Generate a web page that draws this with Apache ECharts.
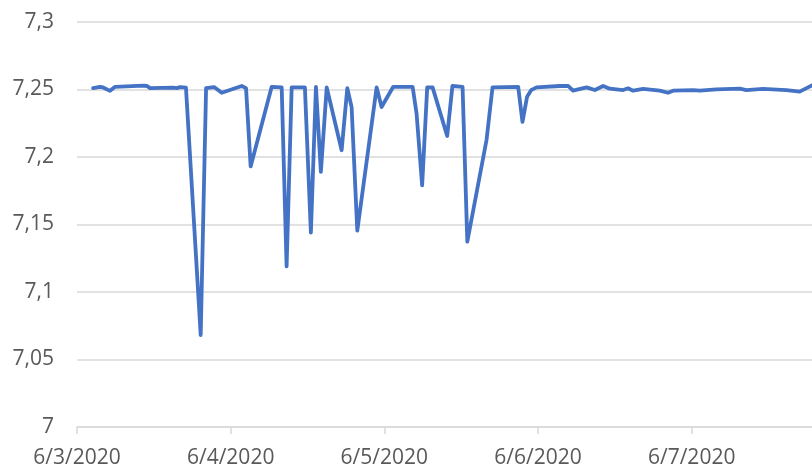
<!DOCTYPE html>
<html>
<head>
<meta charset="utf-8">
<script src="https://cdn.jsdelivr.net/npm/echarts@6/dist/echarts.min.js"></script>
<style>
html,body{margin:0;padding:0;background:#fff;}
#chart{width:812px;height:470px;}
</style>
</head>
<body>
<div id="chart"></div>
<script>
// Tick labels for the date axis (day offsets 0..4 from 6/3/2020)
const dateLabels = ['6/3/2020', '6/4/2020', '6/5/2020', '6/6/2020', '6/7/2020'];

// Measurement time, in days after 6/3/2020 00:00
const days = [
  0.105, 0.150, 0.170, 0.215, 0.248, 0.430, 0.456, 0.475, 0.625, 0.651, 0.670, 0.709,
  0.805, 0.840, 0.892, 0.942, 1.072, 1.100, 1.130, 1.267, 1.332, 1.364, 1.397, 1.483,
  1.522, 1.555, 1.587, 1.625, 1.722, 1.759, 1.787, 1.824, 1.950, 1.982, 2.058, 2.184,
  2.210, 2.246, 2.279, 2.314, 2.409, 2.443, 2.509, 2.540, 2.665, 2.704, 2.871, 2.899,
  2.929, 2.955, 2.990, 3.142, 3.196, 3.228, 3.316, 3.370, 3.424, 3.467, 3.554, 3.586,
  3.619, 3.684, 3.792, 3.846, 3.879, 4.009, 4.053, 4.161, 4.313, 4.356, 4.464, 4.616,
  4.703, 4.757, 4.800
];

// Measured values
const values = [
  7.2510, 7.2520, 7.2515, 7.2490, 7.2520, 7.2528, 7.2526, 7.2510, 7.2514, 7.2510, 7.2518, 7.2514,
  7.0680, 7.2510, 7.2518, 7.2476, 7.2526, 7.2510, 7.1930, 7.2520, 7.2516, 7.1190, 7.2516, 7.2516,
  7.1440, 7.2520, 7.1890, 7.2516, 7.2050, 7.2510, 7.2370, 7.1454, 7.2516, 7.2370, 7.2520, 7.2520,
  7.2320, 7.1790, 7.2516, 7.2516, 7.2156, 7.2526, 7.2520, 7.1373, 7.2126, 7.2516, 7.2520, 7.2260,
  7.2447, 7.2495, 7.2516, 7.2526, 7.2526, 7.2491, 7.2516, 7.2496, 7.2526, 7.2506, 7.2496, 7.2509,
  7.2491, 7.2504, 7.2491, 7.2476, 7.2491, 7.2496, 7.2491, 7.2501, 7.2506, 7.2496, 7.2504, 7.2496,
  7.2484, 7.2516, 7.2540
];

const chart = echarts.init(document.getElementById('chart'), null, {renderer: 'canvas'});
const font = '"Open Sans", "Noto Sans", sans-serif';
chart.setOption({
  animation: false,
  backgroundColor: '#ffffff',
  grid: {left: 77, right: 0, top: 22, bottom: 43, containLabel: false, outerBoundsMode: 'none'},
  xAxis: {
    type: 'value',
    min: 0, max: 4.783, interval: 1,
    axisLine: {show: true, lineStyle: {color: '#d9d9d9', width: 1.5}},
    axisTick: {show: true, length: 7, lineStyle: {color: '#d9d9d9', width: 1.5}},
    splitLine: {show: false},
    axisLabel: {
      color: '#595959', fontFamily: font, fontSize: 21, margin: 21,
      showMaxLabel: false,
      formatter: v => (Math.abs(v - Math.round(v)) < 1e-6 ? (dateLabels[Math.round(v)] || '') : '')
    }
  },
  yAxis: {
    type: 'value',
    min: 7, max: 7.3, interval: 0.05,
    axisLine: {show: false},
    axisTick: {show: false},
    splitLine: {lineStyle: {color: '#d9d9d9', width: 1.5}},
    axisLabel: {
      color: '#595959', fontFamily: font, fontSize: 21, margin: 23,
      formatter: v => String(Math.round(v * 100) / 100).replace('.', ',')
    }
  },
  series: [{
    type: 'line',
    data: days.map((d, i) => [d, values[i]]),
    showSymbol: false,
    clip: true,
    lineStyle: {color: '#4472c4', width: 3.8, join: 'round', cap: 'round'},
    itemStyle: {color: '#4472c4'}
  }]
});
</script>
</body>
</html>
